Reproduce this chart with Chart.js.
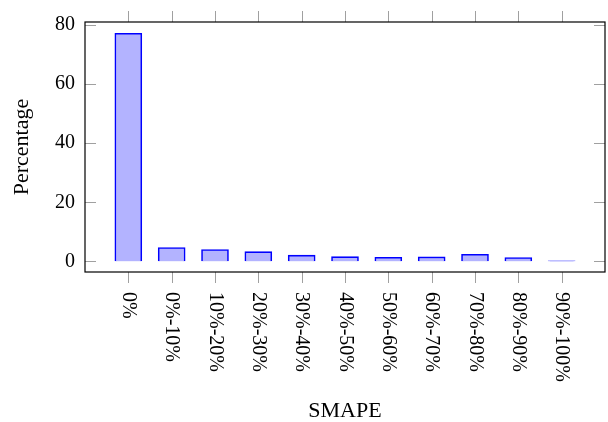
<!DOCTYPE html>
<html>
<head>
<meta charset="utf-8">
<script src="https://cdn.jsdelivr.net/npm/chart.js@4.4.1/dist/chart.umd.min.js"></script>
<style>
  html, body { margin: 0; padding: 0; background: #fff; }
</style>
</head>
<body>
<canvas id="myChart" width="608" height="422"></canvas>
<script>
const categories = ['0%', '0%-10%', '10%-20%', '20%-30%', '30%-40%', '40%-50%', '50%-60%', '60%-70%', '70%-80%', '80%-90%', '90%-100%'];
const percentages = [77.2, 4.7, 4.0, 3.3, 2.1, 1.6, 1.4, 1.5, 2.4, 1.3, 0.2];
const yTickValues = [0, 20, 40, 60, 80];

const serif = "'Liberation Serif', 'DejaVu Serif', serif";

// pgfplots style frame, inner/outer ticks, rotated x labels and titles
const axisDecor = {
  id: 'axisDecor',
  afterDraw(chart) {
    const ctx = chart.ctx;
    const a = chart.chartArea;
    const x = chart.scales.x, y = chart.scales.y;
    ctx.save();
    ctx.strokeStyle = '#a0a0a0';
    ctx.lineWidth = 1;
    categories.forEach((c, i) => {
      const px = Math.round(x.getPixelForValue(i)) + 0.5;
      ctx.beginPath();
      ctx.moveTo(px, a.bottom); ctx.lineTo(px, a.bottom + 11);
      ctx.moveTo(px, a.top); ctx.lineTo(px, a.top - 11);
      ctx.stroke();
    });
    yTickValues.forEach(v => {
      const py = Math.round(y.getPixelForValue(v)) + 0.5;
      ctx.beginPath();
      ctx.moveTo(a.left, py); ctx.lineTo(a.left + 11, py);
      ctx.moveTo(a.right, py); ctx.lineTo(a.right - 11, py);
      ctx.stroke();
    });
    ctx.strokeStyle = '#000';
    ctx.lineWidth = 1.2;
    ctx.strokeRect(a.left, a.top, a.right - a.left, a.bottom - a.top);

    ctx.fillStyle = '#000';
    ctx.font = '20px ' + serif;
    ctx.textAlign = 'left';
    ctx.textBaseline = 'middle';
    categories.forEach((c, i) => {
      ctx.save();
      ctx.translate(x.getPixelForValue(i), a.bottom + 20);
      ctx.rotate(Math.PI / 2);
      ctx.fillText(c, 0, 0);
      ctx.restore();
    });

    ctx.font = '22px ' + serif;
    ctx.textAlign = 'center';
    ctx.fillText('SMAPE', (a.left + a.right) / 2, 411);
    ctx.save();
    ctx.translate(22, (a.top + a.bottom) / 2);
    ctx.rotate(-Math.PI / 2);
    ctx.fillText('Percentage', 0, 0);
    ctx.restore();
    ctx.restore();
  }
};

const ctx = document.getElementById('myChart').getContext('2d');
const myChart = new Chart(ctx, {
  type: 'bar',
  data: {
    datasets: [{
      data: percentages.map((v, i) => ({ x: i, y: v })),
      backgroundColor: 'rgb(179,179,255)',
      borderColor: '#0000ff',
      borderWidth: 1.6,
      barThickness: 27
    }]
  },
  options: {
    responsive: false,
    animation: false,
    layout: { padding: { top: 15, right: 3, left: 0, bottom: 0 } },
    plugins: { legend: { display: false }, tooltip: { enabled: false } },
    scales: {
      x: {
        type: 'linear',
        min: -1,
        max: 11,
        offset: false,
        grid: { display: false, offset: false },
        border: { display: false },
        ticks: { display: false },
        afterFit: s => { s.height = 150; }
      },
      y: {
        min: -3.6,
        max: 81,
        grid: { display: false, drawTicks: false },
        border: { display: false },
        afterBuildTicks: s => { s.ticks = yTickValues.map(v => ({ value: v })); },
        ticks: { color: '#000', padding: 10, font: { family: serif, size: 20 } },
        afterFit: s => { s.width = 85; }
      }
    }
  },
  plugins: [axisDecor]
});
</script>
</body>
</html>
